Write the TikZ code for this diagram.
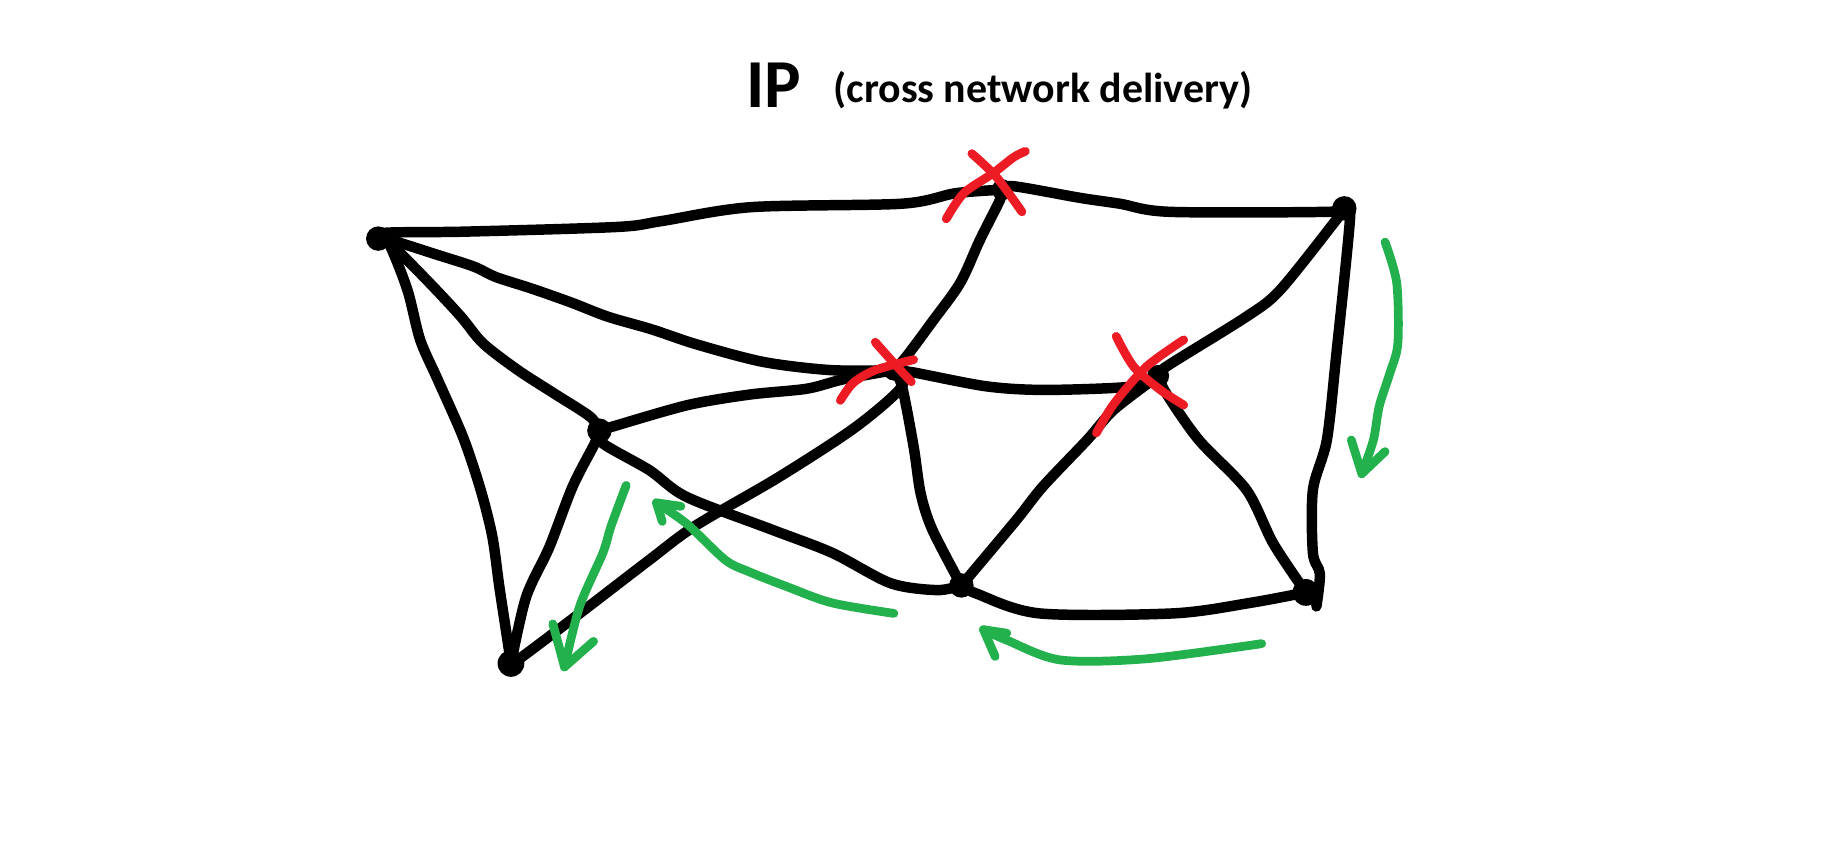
\documentclass[tikz,border=0pt]{standalone}
\usepackage{fontspec}
\setmainfont{Carlito}
\definecolor{paintgreen}{RGB}{34,177,76}
\definecolor{paintred}{RGB}{237,28,36}
\begin{document}
\begin{tikzpicture}[x=1pt,y=-1pt,
  edge/.style={line width=9pt,black,line cap=round,line join=round},
  garrow/.style={line width=7.5pt,paintgreen,line cap=round,line join=round},
  cross/.style={line width=7.5pt,paintred,line cap=round,line join=round},
  blob/.style={circle,fill=black,minimum size=21pt,inner sep=0pt},
  title/.style={anchor=base west,inner sep=0pt,font=\bfseries}]
\useasboundingbox[fill=white] (0,0) rectangle (1568,740);

% title
\node[title] (ip) at (641,92) {\fontsize{59}{59}\selectfont IP};
\node[title] (sub) at (716,88) {\fontsize{36}{36}\selectfont (cross network delivery)};

% routers
\node[blob] (A) at (325,205) {};
\node[blob,minimum size=18pt] (B) at (861,163) {};
\node[blob] (C) at (1155,179) {};
\node[blob,minimum size=18pt] (D) at (768,318) {};
\node[blob,minimum size=19pt] (E) at (995,323) {};
\node[blob] (F) at (515,370) {};
\node[blob,minimum size=23pt] (G) at (439,570) {};
\node[blob] (H) at (826,503) {};
\node[blob,minimum size=23pt] (I) at (1122,509) {};

% links
\draw[edge] plot[smooth] coordinates {(A.center) (331,200) (400,199) (530,195) (568,190) (645,178) (775,175) (821,166) (B.center)};
\draw[edge] plot[smooth] coordinates {(B.center) (871,160) (928,170) (962,175) (1005,182) (1140,182) (C.center)};
\draw[edge] plot[smooth] coordinates {(A.center) (338,207) (376,219) (407,229) (426,238) (457,248) (491,260) (522,272) (560,283) (599,296) (656,311) (714,318) (D.center)};
\draw[edge] plot[smooth] coordinates {(D.center) (785,320) (848,332) (899,335) (974,332) (E.center)};
\draw[edge] plot[smooth] coordinates {(A.center) (338,212) (369,243) (396,272) (415,295) (445,318) (476,338) (507,358) (F.center)};
\draw[edge] plot[smooth] coordinates {(A.center) (334,209) (350,249) (361,292) (376,326) (398,376) (413,421) (423,461) (429,504) (436,550) (G.center)};
\draw[edge] plot[smooth] coordinates {(F.center) (528,366) (591,348) (644,339) (693,334) (724,326) (D.center)};
\draw[edge] plot[smooth] coordinates {(F.center) (511,381) (492,418) (472,470) (452,513) (G.center)};
\draw[edge] plot[smooth] coordinates {(F.center) (518,381) (558,404) (590,427) (663,455) (715,475) (765,501) (805,507) (H.center)};
\draw[edge] plot[smooth] coordinates {(G.center) (449,564) (502,524) (558,481) (597,452) (669,410) (735,367) (775,332) (D.center)};
\draw[edge] plot[smooth] coordinates {(B.center) (859,172) (842,206) (825,243) (802,275) (779,306) (D.center)};
\draw[edge] plot[smooth] coordinates {(D.center) (775,332) (785,384) (791,424) (801,455) (H.center)};
\draw[edge] plot[smooth] coordinates {(E.center) (957,352) (934,378) (896,418) (873,447) (H.center)};
\draw[edge] plot[smooth] coordinates {(E.center) (1002,315) (1071,272) (1100,249) (1148,189) (C.center)};
\draw[edge] plot[smooth] coordinates {(E.center) (1002,338) (1030,378) (1071,421) (1094,467) (I.center)};
\draw[edge] plot[smooth] coordinates {(C.center) (1160,186) (1148,306) (1140,378) (1128,421) (1128,475) (1134,493) (1131,521)};
\draw[edge] plot[smooth] coordinates {(H.center) (839,510) (893,527) (1008,527) (1074,518) (I.center)};

% failed routers
\draw[cross] plot[smooth] coordinates {(835,132) (856,152) (878,182)};
\draw[cross] plot[smooth] coordinates {(881,130) (871,135) (853,149) (828,166) (813,188)};
\draw[cross] plot[smooth] coordinates {(752,294) (768,312) (783,328)};
\draw[cross] plot[smooth] coordinates {(785,309) (752,318) (733,329) (722,344)};
\draw[cross] plot[smooth] coordinates {(959,289) (974,315) (997,335) (1017,348)};
\draw[cross] plot[smooth] coordinates {(1017,292) (985,315) (957,347) (942,372)};

% rerouted paths
\draw[garrow] plot[smooth] coordinates {(1190,208) (1200,243) (1201,295) (1194,321) (1185,349) (1180,378) (1170,407)};
\draw[garrow] (1161,378) -- (1170,407) -- (1190,388);
\draw[garrow] plot[smooth] coordinates {(538,417) (525,452) (518,475) (498,521) (485,573)};
\draw[garrow] (475,536) -- (485,573) -- (510,551);
\draw[garrow] plot[smooth] coordinates {(768,527) (715,518) (676,504) (643,491) (623,481) (590,450) (564,432)};
\draw[garrow] (585,435) -- (564,432) -- (569,448);
\draw[garrow] plot[smooth] coordinates {(1084,553) (985,566) (911,567) (865,550) (845,541)};
\draw[garrow] (865,544) -- (845,541) -- (855,564);
\end{tikzpicture}
\end{document}
